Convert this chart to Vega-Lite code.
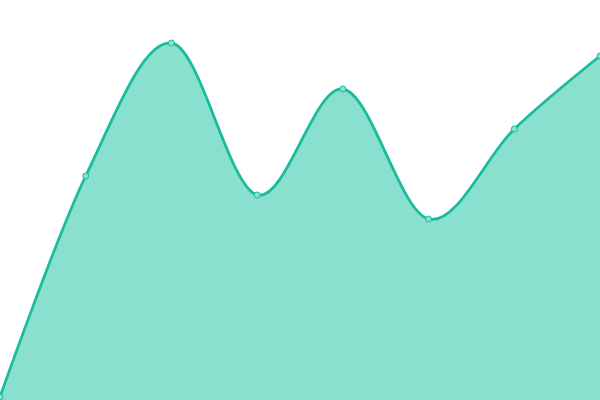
{
  "$schema": "https://vega.github.io/schema/vega-lite/v6.json",
  "autosize": {"type": "none"},
  "width": 600,
  "height": 400,
  "padding": 0,
  "background": "white",
  "config": {"view": {"stroke": null}},
  "data": {"values": [
    {"i": 0, "v": 3},
    {"i": 1, "v": 224},
    {"i": 2, "v": 357},
    {"i": 3, "v": 205},
    {"i": 4, "v": 311},
    {"i": 5, "v": 181},
    {"i": 6, "v": 271},
    {"i": 7, "v": 344}
  ]},
  "encoding": {
    "x": {"field": "i", "type": "quantitative", "scale": {"domain": [0, 7], "nice": false, "zero": false}, "axis": null},
    "y": {"field": "v", "type": "quantitative", "scale": {"domain": [0, 400], "nice": false}, "axis": null}
  },
  "layer": [
    {"mark": {"type": "area", "interpolate": "cardinal", "color": "#89e0cf", "opacity": 1}},
    {"mark": {"type": "line", "interpolate": "cardinal", "color": "#1abc9c", "strokeWidth": 2.8}},
    {"mark": {"type": "point", "filled": true, "fill": "#89e0cf", "stroke": "#1abc9c", "strokeWidth": 1, "size": 36, "opacity": 1}}
  ]
}
